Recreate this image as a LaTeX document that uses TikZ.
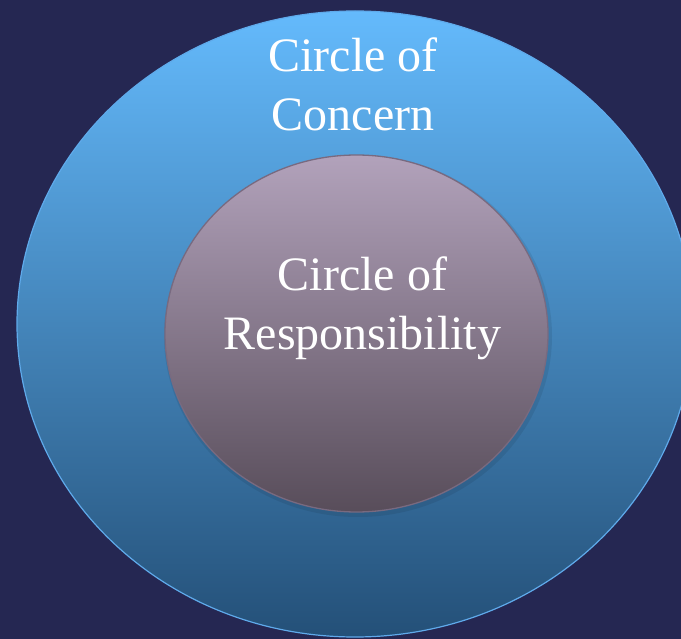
\documentclass[tikz,border=0pt]{standalone}
\usepackage{fontspec}
\setmainfont{Liberation Serif}
\begin{document}
\begin{tikzpicture}[x=1pt,y=-1pt]
\definecolor{bg}{RGB}{37,39,82}
\definecolor{outertop}{RGB}{100,186,252}
\definecolor{outermid}{RGB}{80,152,220}
\definecolor{outerbot}{RGB}{36,80,120}
\definecolor{outeredge}{RGB}{95,170,235}
\definecolor{innertop}{RGB}{178,162,187}
\definecolor{innermid}{RGB}{155,138,160}
\definecolor{innerbot}{RGB}{88,77,90}
\definecolor{inneredge}{RGB}{120,106,128}
\tikzset{
  label/.style={text=white, align=center, inner sep=0pt,
    font=\fontsize{48}{58.5}\selectfont}
}
\useasboundingbox (0,0) rectangle (681,639);
\clip (0,0) rectangle (681,639);
\fill[bg] (0,0) rectangle (681,639);
% outer circle
\shade[top color=outertop, middle color=outermid, bottom color=outerbot]
  (355,324) ellipse [x radius=338, y radius=313];
\draw[outeredge, line width=1.2pt] (355,324) ellipse [x radius=338, y radius=313];
% soft shadow of inner circle
\fill[black, opacity=0.08] (358,336) ellipse [x radius=194, y radius=181];
% inner circle
\shade[top color=innertop, middle color=innermid, bottom color=innerbot]
  (356.5,333.5) ellipse [x radius=191.5, y radius=178.5];
\draw[inneredge, line width=1.3pt] (356.5,333.5) ellipse [x radius=191.5, y radius=178.5];
% labels
\node[label] (concern) at (353,84.5) {Circle of\\Concern};
\node[label] (resp) at (362.5,308.5) {Circle of\\Responsibility};
\end{tikzpicture}
\end{document}
